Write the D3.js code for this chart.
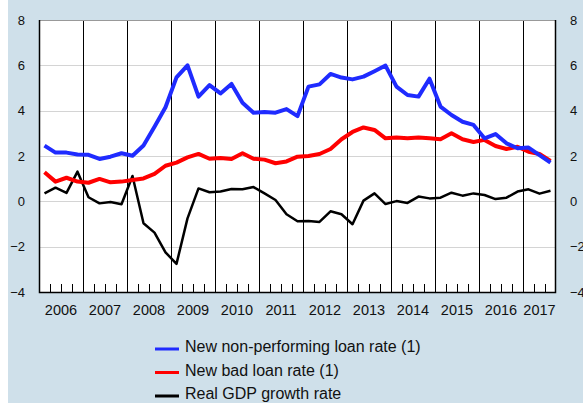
<!DOCTYPE html>
<html>
<head>
<meta charset="utf-8">
<script src="https://cdn.jsdelivr.net/npm/d3@7"></script>
<style>
  body { margin: 0; background: #fff; }
  text { font-family: "Liberation Sans", Arial, Helvetica, sans-serif; fill: #111; }
</style>
</head>
<body>
<script>
// quarterly data, 2006 Q1 .. 2017 Q3
const years = [2006, 2007, 2008, 2009, 2010, 2011, 2012, 2013, 2014, 2015, 2016, 2017];
const yTicks = [-4, -2, 0, 2, 4, 6, 8];

const npl = [2.46, 2.15, 2.15, 2.07, 2.05, 1.87, 1.97, 2.12, 2.01, 2.46, 3.29, 4.15,
  5.47, 6.0, 4.62, 5.13, 4.76, 5.18, 4.35, 3.91, 3.94, 3.91, 4.07, 3.76,
  5.06, 5.16, 5.62, 5.46, 5.38, 5.5, 5.74, 5.99, 5.06, 4.69, 4.62, 5.41,
  4.18, 3.81, 3.51, 3.37, 2.78, 2.97, 2.56, 2.34, 2.37, 2.04, 1.71];

const bad = [1.28, 0.87, 1.04, 0.87, 0.82, 0.99, 0.84, 0.87, 0.94, 1.01, 1.21, 1.57,
  1.71, 1.94, 2.09, 1.88, 1.91, 1.87, 2.12, 1.88, 1.84, 1.68, 1.76, 1.97,
  2.0, 2.09, 2.31, 2.74, 3.06, 3.26, 3.15, 2.78, 2.82, 2.78, 2.82, 2.78,
  2.74, 3.0, 2.74, 2.62, 2.71, 2.44, 2.31, 2.41, 2.19, 2.09, 1.78];

const gdp = [0.35, 0.6, 0.37, 1.31, 0.18, -0.09, -0.03, -0.13, 1.12, -0.97, -1.38, -2.25,
  -2.76, -0.75, 0.57, 0.40, 0.43, 0.54, 0.53, 0.63, 0.35, 0.06, -0.57, -0.88,
  -0.87, -0.91, -0.44, -0.57, -1.01, 0.03, 0.35, -0.12, 0.01, -0.07, 0.21, 0.13,
  0.16, 0.38, 0.25, 0.35, 0.28, 0.10, 0.16, 0.43, 0.53, 0.34, 0.47];

const seriesNames = ["New non-performing loan rate (1)", "New bad loan rate (1)", "Real GDP growth rate"];
const seriesColors = ["#1f2bff", "#ff0000", "#000000"];
const seriesWidths = [4, 4, 2.5];

const width = 583, height = 403;
const margin = {top: 20, right: 27, bottom: 111, left: 39};

const svg = d3.select("body").append("svg")
    .attr("width", width)
    .attr("height", height);

svg.append("rect")
    .attr("x", 8).attr("y", 0)
    .attr("width", width - 8).attr("height", height)
    .attr("fill", "#cfe0ea");

const nQ = npl.length;
const x = d3.scaleLinear()
    .domain([0, nQ])
    .range([margin.left, width - margin.right]);

const y = d3.scaleLinear()
    .domain([-4, 8])
    .range([height - margin.bottom, margin.top]);

// plot area
svg.append("rect")
    .attr("x", x(0)).attr("y", y(8))
    .attr("width", x(nQ) - x(0)).attr("height", y(-4) - y(8))
    .attr("fill", "#fff");

// horizontal grid
svg.append("g")
  .selectAll("line")
  .data(yTicks.filter(d => d > -4 && d < 8))
  .join("line")
    .attr("x1", x(0)).attr("x2", x(nQ))
    .attr("y1", d => Math.round(y(d)) + 0.5)
    .attr("y2", d => Math.round(y(d)) + 0.5)
    .attr("stroke", "#d4d4d4");

// year separators
svg.append("g")
  .selectAll("line")
  .data(years.slice(1))
  .join("line")
    .attr("x1", (d, i) => Math.round(x((i + 1) * 4)) + 0.5)
    .attr("x2", (d, i) => Math.round(x((i + 1) * 4)) + 0.5)
    .attr("y1", y(8)).attr("y2", y(-4))
    .attr("stroke", "#000");

// quarter ticks
const qTicks = d3.range(1, nQ).filter(q => q % 4 !== 0);
svg.append("g")
  .selectAll("line")
  .data(qTicks)
  .join("line")
    .attr("x1", d => Math.round(x(d)) + 0.5)
    .attr("x2", d => Math.round(x(d)) + 0.5)
    .attr("y1", y(-4)).attr("y2", y(-4) - 8)
    .attr("stroke", "#000");

// frame
svg.append("line")
    .attr("x1", x(0)).attr("x2", x(nQ))
    .attr("y1", Math.round(y(8)) + 0.5).attr("y2", Math.round(y(8)) + 0.5)
    .attr("stroke", "#999");
svg.append("path")
    .attr("d", `M${Math.round(x(0)) + 0.5},${y(8)}V${Math.round(y(-4)) + 0.5}H${Math.round(x(nQ)) - 0.5}V${y(8)}`)
    .attr("fill", "none")
    .attr("stroke", "#000")
    .attr("stroke-width", 1.5);

// y axes, both sides
const yAxisL = g => g
    .attr("transform", `translate(${x(0)},0)`)
    .call(d3.axisLeft(y).tickValues(yTicks).tickSize(0).tickPadding(14))
    .call(g => g.select(".domain").remove());
const yAxisR = g => g
    .attr("transform", `translate(${x(nQ)},0)`)
    .call(d3.axisRight(y).tickValues(yTicks).tickSize(0).tickPadding(14))
    .call(g => g.select(".domain").remove());

svg.append("g").call(yAxisL);
svg.append("g").call(yAxisR);
svg.selectAll(".tick text")
    .attr("font-family", "Liberation Sans, Arial, sans-serif")
    .attr("font-size", 13)
    .attr("fill", "#111");

// year labels centred on the visible span
svg.append("g")
  .selectAll("text")
  .data(years)
  .join("text")
    .attr("x", (d, i) => (x(i * 4) + x(Math.min((i + 1) * 4, nQ))) / 2)
    .attr("y", 315)
    .attr("text-anchor", "middle")
    .style("font-size", "14.5px")
    .text(d => d);

// lines
const line = d3.line()
    .x((d, i) => x(i + 0.5))
    .y(d => y(d));

[npl, bad, gdp].slice().reverse().forEach((s, k) => {
  const j = 2 - k;
  svg.append("path")
      .datum(s)
      .attr("d", line)
      .attr("fill", "none")
      .attr("stroke", seriesColors[j])
      .attr("stroke-width", seriesWidths[j])
      .attr("stroke-linejoin", "round");
});

// legend
const legend = svg.append("g")
  .selectAll("g")
  .data(seriesNames)
  .join("g")
    .attr("transform", (d, i) => `translate(155,${349 + i * 23.5})`);

legend.append("line")
    .attr("x1", 0).attr("x2", 24)
    .attr("stroke", (d, i) => seriesColors[i])
    .attr("stroke-width", 3);

legend.append("text")
    .attr("x", 30)
    .attr("dy", "0.2em")
    .style("font-size", "16px")
    .text(d => d);
</script>
</body>
</html>
